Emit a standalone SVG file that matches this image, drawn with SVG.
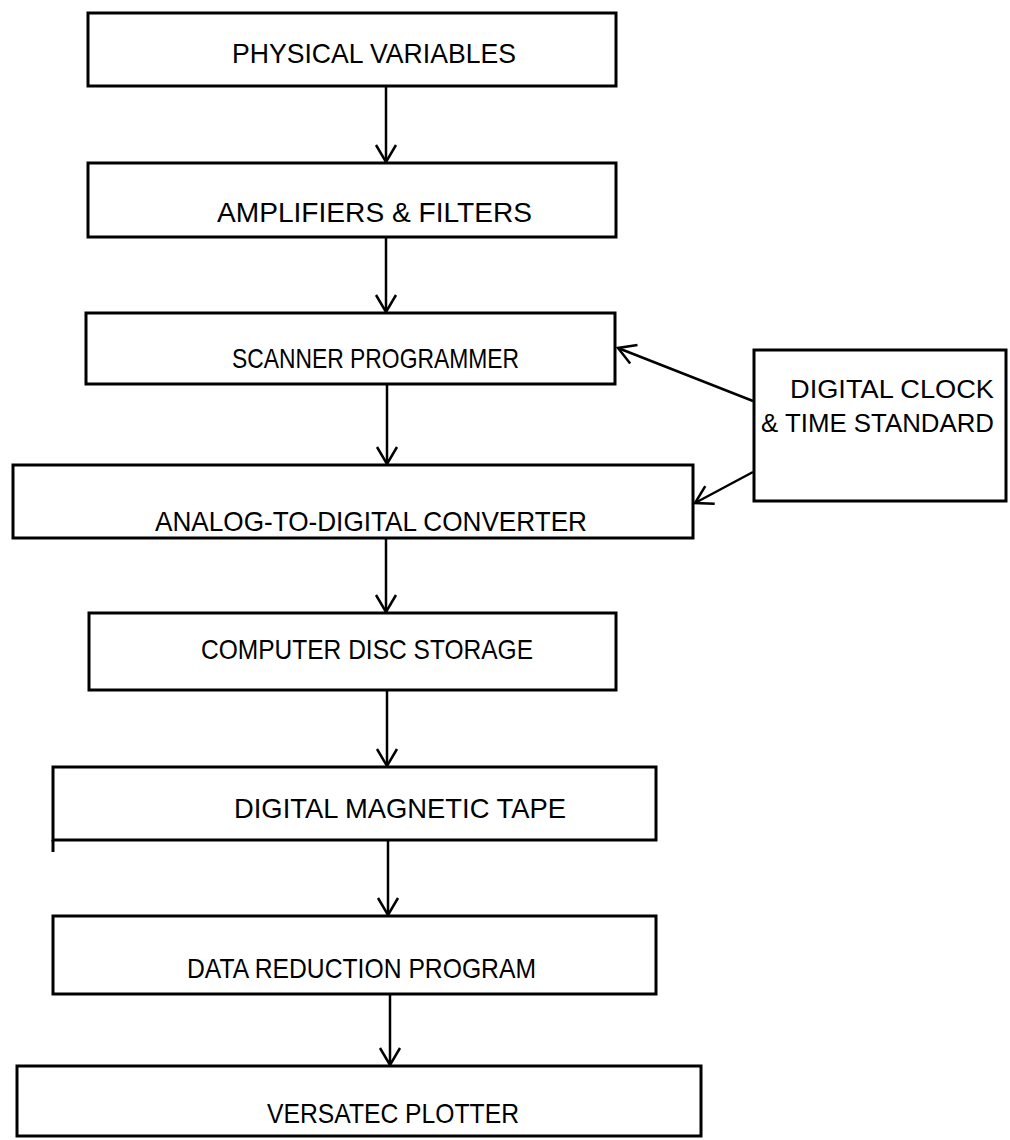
<svg xmlns="http://www.w3.org/2000/svg" width="1010" height="1140" viewBox="0 0 1010 1140">
<style>
.box{fill:none;stroke:#000;stroke-width:3}
.lbl{font-family:"Liberation Sans",Arial,sans-serif;font-size:28px;fill:#000}
.sm{font-size:26px}
.con{fill:none;stroke:#000;stroke-width:2.5}
</style>
<defs>
<marker id="arr" markerUnits="userSpaceOnUse" viewBox="-20 -12 22 24" markerWidth="22" markerHeight="24" refX="0" refY="0" orient="auto">
<path d="M-17,-10 L0,0 L-17,10" fill="none" stroke="#000" stroke-width="2.5"/>
</marker>
</defs>
<rect width="1010" height="1140" fill="#fff"/>
<g id="n1"><rect class="box" x="88" y="13" width="528" height="73"/><text class="lbl" x="232" y="63" textLength="284" lengthAdjust="spacingAndGlyphs">PHYSICAL VARIABLES</text></g>
<g id="n2"><rect class="box" x="88" y="163" width="528" height="74"/><text class="lbl" x="217" y="222" textLength="315" lengthAdjust="spacingAndGlyphs">AMPLIFIERS &amp; FILTERS</text></g>
<g id="n3"><rect class="box" x="86" y="313" width="529" height="71"/><text class="lbl" x="232" y="368" textLength="287" lengthAdjust="spacingAndGlyphs">SCANNER PROGRAMMER</text></g>
<g id="n4"><rect class="box" x="13" y="465" width="680" height="73"/><text class="lbl" x="155" y="531" textLength="432" lengthAdjust="spacingAndGlyphs">ANALOG-TO-DIGITAL CONVERTER</text></g>
<g id="clock"><rect class="box" x="754" y="350" width="252" height="151"/><text class="lbl sm" x="790" y="398" textLength="204" lengthAdjust="spacingAndGlyphs">DIGITAL CLOCK</text><text class="lbl sm" x="761" y="432" textLength="233" lengthAdjust="spacingAndGlyphs">&amp; TIME STANDARD</text></g>
<g id="n5"><rect class="box" x="89" y="613" width="527" height="77"/><text class="lbl" x="201" y="659" textLength="332" lengthAdjust="spacingAndGlyphs">COMPUTER DISC STORAGE</text></g>
<g id="n6"><rect class="box" x="53" y="767" width="603" height="73"/><line class="box" x1="53" y1="840" x2="53" y2="852"/><text class="lbl" x="234" y="818" textLength="332" lengthAdjust="spacingAndGlyphs">DIGITAL MAGNETIC TAPE</text></g>
<g id="n7"><rect class="box" x="53" y="916" width="603" height="78"/><text class="lbl" x="187" y="978" textLength="349" lengthAdjust="spacingAndGlyphs">DATA REDUCTION PROGRAM</text></g>
<g id="n8"><rect class="box" x="17" y="1066" width="684" height="70"/><text class="lbl" x="267" y="1123" textLength="252" lengthAdjust="spacingAndGlyphs">VERSATEC PLOTTER</text></g>
<g id="connectors">
<line class="con" x1="386" y1="86" x2="386" y2="162" marker-end="url(#arr)"/>
<line class="con" x1="386" y1="237" x2="386" y2="312" marker-end="url(#arr)"/>
<line class="con" x1="387" y1="384" x2="387" y2="464" marker-end="url(#arr)"/>
<line class="con" x1="386" y1="538" x2="386" y2="612" marker-end="url(#arr)"/>
<line class="con" x1="387" y1="690" x2="387" y2="766" marker-end="url(#arr)"/>
<line class="con" x1="388" y1="840" x2="388" y2="915" marker-end="url(#arr)"/>
<line class="con" x1="390" y1="994" x2="390" y2="1065" marker-end="url(#arr)"/>
<line class="con" x1="753" y1="401" x2="618" y2="348" marker-end="url(#arr)"/>
<line class="con" x1="753" y1="472" x2="695" y2="503" marker-end="url(#arr)"/>
</g>
</svg>
